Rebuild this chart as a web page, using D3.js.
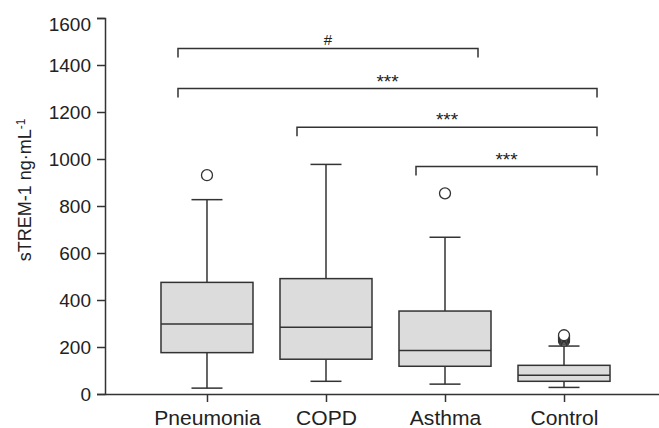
<!DOCTYPE html>
<html>
<head>
<meta charset="utf-8">
<script src="https://cdn.jsdelivr.net/npm/d3@7"></script>
<style>
  body { margin: 0; background: #fff; }
  text { font-family: "Liberation Sans", Arial, sans-serif; fill: #222; }
  .axis path, .axis line { stroke: #333; stroke-width: 1.5; }
</style>
</head>
<body>
<svg id="chart" width="659" height="428"></svg>
<script>
var width = 659,
    height = 428;

// data
var categories = ["Pneumonia", "COPD", "Asthma", "Control"];
var whiskerLow = [25, 54, 42, 28];
var q1 = [176, 148, 118, 54];
var medians = [298, 284, 185, 80];
var q3 = [475, 491, 353, 122];
var whiskerHigh = [827, 977, 667, 204];
var outliers = [[931], [], [854], [226, 231, 236, 241, 246, 250]];
var yTicks = [0, 200, 400, 600, 800, 1000, 1200, 1400, 1600];

// significance brackets
var bracketFrom = ["Pneumonia", "Pneumonia", "COPD", "Asthma"];
var bracketTo = ["Asthma", "Control", "Control", "Control"];
var bracketLevel = [1470, 1300, 1135, 968];
var bracketLabel = ["#", "***", "***", "***"];

var boxWidth = 92,
    capWidth = 31;

var svg = d3.select("#chart");

var yScale = d3.scaleLinear()
    .domain([0, 1600])
    .range([394, 18]);

var xScale = d3.scalePoint()
    .domain(categories)
    .range([105, 666])
    .padding(0.857);

var yAxis = d3.axisLeft(yScale)
    .tickValues(yTicks)
    .tickFormat(d3.format("d"))
    .tickSize(8)
    .tickPadding(6);

var xAxis = d3.axisBottom(xScale)
    .tickSize(8)
    .tickSizeOuter(0)
    .tickPadding(9);

var boxes = categories.map((c, i) => ({
    cat: c, lo: whiskerLow[i], q1: q1[i], med: medians[i], q3: q3[i], hi: whiskerHigh[i], out: outliers[i]
}));

var g = svg.selectAll("g.box").data(boxes).enter().append("g")
    .attr("class", "box")
    .attr("transform", (d) => "translate(" + xScale(d.cat) + ",0)");

// whiskers
g.append("line")
    .attr("x1", 0).attr("x2", 0)
    .attr("y1", (d) => yScale(d.lo))
    .attr("y2", (d) => yScale(d.hi))
    .attr("stroke", "#333").attr("stroke-width", 1.5);
g.append("line")
    .attr("x1", -capWidth/2).attr("x2", capWidth/2)
    .attr("y1", (d) => yScale(d.lo)).attr("y2", (d) => yScale(d.lo))
    .attr("stroke", "#333").attr("stroke-width", 1.5);
g.append("line")
    .attr("x1", -capWidth/2).attr("x2", capWidth/2)
    .attr("y1", (d) => yScale(d.hi)).attr("y2", (d) => yScale(d.hi))
    .attr("stroke", "#333").attr("stroke-width", 1.5);

// box
g.append("rect")
    .attr("x", -boxWidth/2)
    .attr("width", boxWidth)
    .attr("y", (d) => yScale(d.q3))
    .attr("height", (d) => yScale(d.q1) - yScale(d.q3))
    .attr("fill", "#dcdcdc")
    .attr("stroke", "#333")
    .attr("stroke-width", 1.5);
g.append("line")
    .attr("x1", -boxWidth/2).attr("x2", boxWidth/2)
    .attr("y1", (d) => yScale(d.med)).attr("y2", (d) => yScale(d.med))
    .attr("stroke", "#333").attr("stroke-width", 1.5);

// outliers
g.selectAll("circle").data((d) => d.out).enter().append("circle")
    .attr("cx", 0)
    .attr("cy", (d) => yScale(d))
    .attr("r", 5.5)
    .attr("fill", "#fff")
    .attr("stroke", "#333")
    .attr("stroke-width", 1.3);

// axes
var gy = svg.append("g")
    .attr("class", "axis")
    .attr("transform", "translate(105,0)")
    .call(yAxis);
gy.selectAll("text").style("font-size", "19px");
// top label sits a bit lower in the original
gy.selectAll(".tick").filter((d) => d === 1600).select("text").attr("dy", "0.68em");

var gx = svg.append("g")
    .attr("class", "axis")
    .attr("transform", "translate(0,394)")
    .call(xAxis);
gx.selectAll("text")
    .style("font-size", "19.5px")
    .attr("transform", "scale(1.08,1)")
    .attr("x", function() { return 0; });

// y label
var ylab = svg.append("text")
    .attr("transform", "translate(31,190) rotate(-90)")
    .attr("text-anchor", "middle")
    .style("font-size", "18px");
ylab.append("tspan").text("sTREM-1 ng·mL");
ylab.append("tspan").attr("dy", "-0.5em").style("font-size", "12px").text("-1");

// brackets
var br = bracketLabel.map((l, i) => ({
    x1: xScale(bracketFrom[i]) - 29,
    x2: xScale(bracketTo[i]) + 33,
    y: yScale(bracketLevel[i]),
    label: l
}));
svg.selectAll("path.bracket").data(br).enter().append("path")
    .attr("class", "bracket")
    .attr("d", (d) => "M" + d.x1 + "," + (d.y + 9) + "V" + d.y + "H" + d.x2 + "V" + (d.y + 9))
    .attr("fill", "none")
    .attr("stroke", "#333")
    .attr("stroke-width", 1.5);
svg.selectAll("text.sig").data(br).enter().append("text")
    .attr("class", "sig")
    .attr("x", (d) => (d.x1 + d.x2) / 2)
    .attr("y", (d) => d.label === "#" ? d.y - 4 : d.y - 1)
    .attr("text-anchor", "middle")
    .style("font-size", (d) => d.label === "#" ? "15px" : "19px")
    .text((d) => d.label);
</script>
</body>
</html>
